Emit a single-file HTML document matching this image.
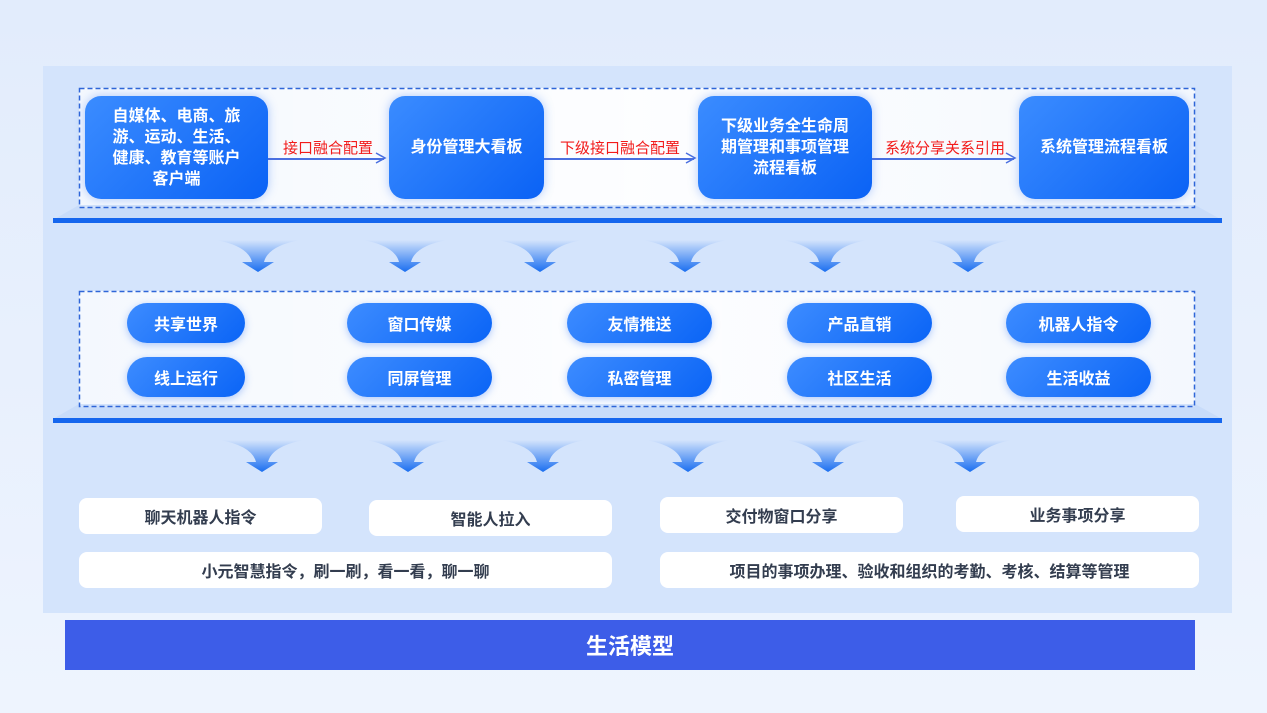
<!DOCTYPE html>
<html><head><meta charset="utf-8"><style>
*{margin:0;padding:0;box-sizing:border-box}
body{width:1267px;height:713px;overflow:hidden;background:linear-gradient(180deg,#e2ecfc,#eef4fe);font-family:"Liberation Sans","Noto Sans CJK SC",sans-serif;position:relative}
.a{position:absolute}
.panel{left:43px;top:66px;width:1189px;height:547px;background:#d4e4fc}
.dbox{background:linear-gradient(90deg,rgba(255,255,255,.75),rgba(255,255,255,.95) 50%,rgba(255,255,255,.75))}
.line{height:5px;background:#1566ee}
.node{background:linear-gradient(135deg,#3b8cff,#0a62f5);border-radius:16px;color:#fff;font-weight:bold;font-size:16px;display:flex;align-items:center;justify-content:center;text-align:center;line-height:21px;box-shadow:0 0 10px rgba(40,110,240,.35)}
.pill{background:linear-gradient(135deg,#3d8cff,#0a64f6);border-radius:20px;color:#fff;font-weight:bold;font-size:16px;display:flex;align-items:center;justify-content:center;box-shadow:0 2px 8px rgba(40,110,240,.35);height:40px}
.lbl{color:#f21b1b;font-size:15px;text-align:center}
.arr{height:1.5px;background:#4a6fe0}
.wb{background:#fff;border-radius:8px;color:#333d4f;font-weight:bold;font-size:16px;display:flex;align-items:center;justify-content:center;height:36px}
</style></head><body>
<div class="a panel"></div>
<div class="a dbox" style="left:79px;top:88px;width:1116px;height:120px"></div>
<div class="a dbox" style="left:79px;top:291px;width:1116px;height:116px"></div>
<svg class="a" style="left:0;top:0" width="1267" height="713">
<polygon points="79,205 53,220 1222,220 1195,205" fill="#c3d8fa" opacity=".7"/>
<polygon points="79,404 53,419 1222,419 1195,404" fill="#c3d8fa" opacity=".7"/>
<g fill="none" stroke="#2f66d8" stroke-width="1.5" stroke-dasharray="5,3">
<rect x="79.5" y="88.5" width="1115" height="119"/>
<rect x="79.5" y="291.5" width="1115" height="115"/>
</g>
<defs><linearGradient id="g" x1="0" y1="0" x2="0" y2="1"><stop offset="0" stop-color="#1a6ef0" stop-opacity="0"/><stop offset="1" stop-color="#1a6ef0"/></linearGradient></defs>
<g fill="url(#g)">
<path id="ar" d="M-42,0 Q-10,6 -6,22 L-16,22 L0,32 L16,22 L6,22 Q10,6 42,0 Z" transform="translate(258,240)"/>
<use href="#ar" x="147" y="0"/><use href="#ar" x="282" y="0"/><use href="#ar" x="427" y="0"/><use href="#ar" x="567" y="0"/><use href="#ar" x="710" y="0"/>
<use href="#ar" x="4" y="200"/><use href="#ar" x="150" y="200"/><use href="#ar" x="285" y="200"/><use href="#ar" x="430" y="200"/><use href="#ar" x="570" y="200"/><use href="#ar" x="712" y="200"/>
</g>
<g stroke="#4a6fe0" stroke-width="1.5" fill="none">
<path d="M376,153 L385,158 L376,163"/><path d="M686,153 L695,158 L686,163"/><path d="M1006,153 L1015,158 L1006,163"/>
</g>
</svg>
<div class="a line" style="left:53px;top:218px;width:1169px"></div>
<div class="a node" style="left:85px;top:96px;width:183px;height:103px">自媒体、电商、旅<br>游、运动、生活、<br>健康、教育等账户<br>客户端</div>
<div class="a node" style="left:389px;top:96px;width:155px;height:103px">身份管理大看板</div>
<div class="a node" style="left:698px;top:96px;width:174px;height:103px">下级业务全生命周<br>期管理和事项管理<br>流程看板</div>
<div class="a node" style="left:1019px;top:96px;width:170px;height:103px">系统管理流程看板</div>
<div class="a arr" style="left:268px;top:158px;width:116px"></div>
<div class="a arr" style="left:544px;top:158px;width:150px"></div>
<div class="a arr" style="left:872px;top:158px;width:142px"></div>
<div class="a lbl" style="left:268px;top:137px;width:120px">接口融合配置</div>
<div class="a lbl" style="left:544px;top:137px;width:152px">下级接口融合配置</div>
<div class="a lbl" style="left:872px;top:137px;width:146px">系统分享关系引用</div>
<div class="a line" style="left:53px;top:418px;width:1169px"></div>
<div class="a pill" style="left:127px;top:303px;width:118px">共享世界</div>
<div class="a pill" style="left:347px;top:303px;width:145px">窗口传媒</div>
<div class="a pill" style="left:567px;top:303px;width:145px">友情推送</div>
<div class="a pill" style="left:787px;top:303px;width:145px">产品直销</div>
<div class="a pill" style="left:1006px;top:303px;width:145px">机器人指令</div>
<div class="a pill" style="left:127px;top:357px;width:118px">线上运行</div>
<div class="a pill" style="left:347px;top:357px;width:145px">同屏管理</div>
<div class="a pill" style="left:567px;top:357px;width:145px">私密管理</div>
<div class="a pill" style="left:787px;top:357px;width:145px">社区生活</div>
<div class="a pill" style="left:1006px;top:357px;width:145px">生活收益</div>
<div class="a wb" style="left:79px;top:498px;width:243px">聊天机器人指令</div>
<div class="a wb" style="left:369px;top:500px;width:243px">智能人拉入</div>
<div class="a wb" style="left:660px;top:497px;width:243px">交付物窗口分享</div>
<div class="a wb" style="left:956px;top:496px;width:243px">业务事项分享</div>
<div class="a wb" style="left:79px;top:552px;width:533px">小元智慧指令，刷一刷，看一看，聊一聊</div>
<div class="a wb" style="left:660px;top:552px;width:539px">项目的事项办理、验收和组织的考勤、考核、结算等管理</div>
<div class="a" style="left:65px;top:620px;width:1130px;height:50px;background:#3d5de8;color:#fff;font-weight:bold;font-size:22px;display:flex;align-items:center;justify-content:center">生活模型</div>
</body></html>
